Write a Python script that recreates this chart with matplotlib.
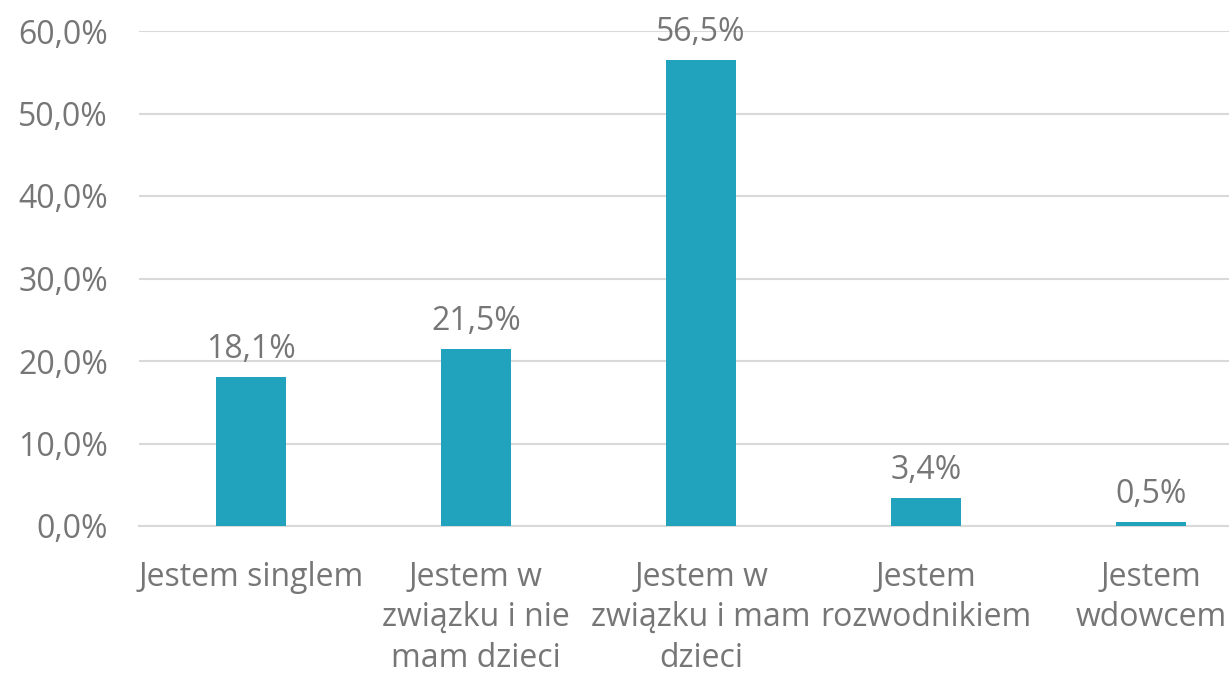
import matplotlib
matplotlib.use("Agg")
import matplotlib.pyplot as plt
from matplotlib.ticker import FuncFormatter

categories = ["Jestem singlem", "Jestem w\nzwiązku i nie\nmam dzieci", "Jestem w\nzwiązku i mam\ndzieci",
              "Jestem\nrozwodnikiem", "Jestem\nwdowcem"]
values = [18.1, 21.5, 56.5, 3.4, 0.5]
yticks = [0, 10, 20, 30, 40, 50, 60]

plt.rcParams['font.family'] = ['Open Sans', 'DejaVu Sans']
text_color = '#767676'
bar_color = '#21A3BE'
grid_color = '#D9D9D9'

fig = plt.figure(figsize=(12.29, 6.75), dpi=100)
ax = fig.add_axes([138.5/1229, 1-526/675, 1125/1229, (526-31)/675])

x = list(range(len(categories)))
bars = ax.bar(x, values, width=0.31, color=bar_color, zorder=3)
for xi, v in zip(x, values):
    ax.annotate(f"{v:.1f}%".replace('.', ','), (xi, v), xytext=(0, 8), textcoords='offset points',
                ha='center', va='bottom', fontsize=23, color=text_color)

ax.set_xlim(-0.5, len(categories)-0.5)
ax.set_ylim(0, 60)
ax.set_yticks(yticks)
ax.yaxis.set_major_formatter(FuncFormatter(lambda v, p: f"{v:.1f}%".replace('.', ',')))
ax.set_xticks(x)
ax.set_xticklabels(categories, linespacing=1.3)
ax.tick_params(axis='both', length=0, labelsize=23, colors=text_color)
ax.tick_params(axis='x', pad=25)
ax.tick_params(axis='y', pad=22)
ax.grid(axis='y', color=grid_color, linewidth=1.5, zorder=0)
for s in ['top', 'right', 'left']:
    ax.spines[s].set_visible(False)
ax.spines['bottom'].set_color(grid_color)
ax.spines['bottom'].set_linewidth(1.5)

fig.savefig('out.png', dpi=100)
